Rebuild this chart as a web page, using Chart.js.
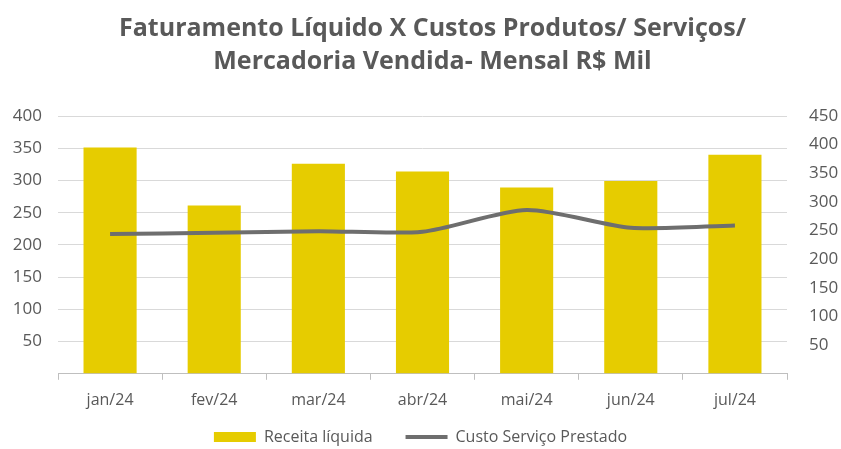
<!DOCTYPE html>
<html>
<head>
<meta charset="utf-8">
<script src="https://cdn.jsdelivr.net/npm/chart.js@4.4.0/dist/chart.umd.min.js"></script>
<style>
  html, body { margin: 0; padding: 0; background: #ffffff; }
  #wrap { width: 841px; height: 449px; }
</style>
</head>
<body>
<div id="wrap"><canvas id="chart" width="841" height="449"></canvas></div>
<script>
// dados (R$ mil)
const meses = ['jan/24', 'fev/24', 'mar/24', 'abr/24', 'mai/24', 'jun/24', 'jul/24'];
const receitaLiquida = [351, 261, 326, 314, 289, 299, 340];
const custoServico = [244, 246, 249, 248, 286, 255, 259];
const ticksEsq = [0, 400, 50];   // min, max, passo
const ticksDir = [0, 450, 50];

const cinza = '#595959';
const fonte = '"Open Sans", Lato, sans-serif';

// legenda mais baixa e título um pouco à direita
const ajustes = {
  id: 'ajustes',
  beforeInit(chart) {
    const fitOrig = chart.legend.fit;
    chart.legend.fit = function () {
      fitOrig.call(this);
      this.height -= 6;
    };
  },
  afterLayout(chart) {
    chart.titleBlock.left += 24;
  }
};

const ctx = document.getElementById('chart').getContext('2d');
new Chart(ctx, {
  data: {
    labels: meses,
    datasets: [
      {
        type: 'line',
        label: 'Custo Serviço Prestado',
        data: custoServico,
        yAxisID: 'y1',
        borderColor: '#6e6e6e',
        backgroundColor: '#6e6e6e',
        borderWidth: 4,
        pointRadius: 0,
        pointStyle: 'line',
        tension: 0.25,
        order: 0
      },
      {
        type: 'bar',
        label: 'Receita líquida',
        data: receitaLiquida,
        yAxisID: 'y',
        backgroundColor: '#E6CC00',
        categoryPercentage: 1,
        barPercentage: 0.51,
        order: 1
      }
    ]
  },
  options: {
    responsive: false,
    animation: false,
    layout: { padding: { top: 6, bottom: 0, left: 0, right: 0 } },
    plugins: {
      title: {
        display: true,
        text: ['Faturamento Líquido X Custos Produtos/ Serviços/', 'Mercadoria Vendida- Mensal R$ Mil'],
        color: cinza,
        font: { family: fonte, size: 25, weight: 'bold', lineHeight: 1.32 },
        padding: { top: 6, bottom: 38 }
      },
      legend: {
        position: 'bottom',
        reverse: true,
        labels: {
          color: cinza,
          font: { family: fonte, size: 16 },
          usePointStyle: true,
          pointStyleWidth: 42,
          boxWidth: 42,
          boxHeight: 10,
          padding: 8,
          generateLabels: function (chart) {
            const items = Chart.defaults.plugins.legend.labels.generateLabels(chart);
            items.forEach(it => {
              const ds = chart.data.datasets[it.datasetIndex];
              if (ds.type === 'bar') {
                it.pointStyle = 'rect';
                it.text = it.text + '      ';
              } else {
                it.pointStyle = 'line';
                it.lineWidth = 4;
                it.strokeStyle = '#6e6e6e';
              }
            });
            return items;
          }
        }
      },
      tooltip: { enabled: false }
    },
    scales: {
      x: {
        offset: true,
        grid: { drawOnChartArea: false, drawTicks: true, tickLength: 6, color: '#bfbfbf', offset: true },
        border: { color: '#bfbfbf' },
        ticks: { color: cinza, font: { family: fonte, size: 16 }, padding: 11 }
      },
      y: {
        position: 'left',
        min: ticksEsq[0],
        max: ticksEsq[1],
        afterFit: s => { s.width = 58; },
        grid: { color: '#d9d9d9', drawTicks: false },
        border: { display: false },
        ticks: {
          stepSize: ticksEsq[2],
          color: cinza,
          font: { family: fonte, size: 17 },
          padding: 16,
          callback: v => v === 0 ? '' : v
        }
      },
      y1: {
        position: 'right',
        min: ticksDir[0],
        max: ticksDir[1],
        afterFit: s => { s.width = 54; },
        grid: { drawOnChartArea: false, drawTicks: false },
        border: { display: false },
        ticks: {
          stepSize: ticksDir[2],
          color: cinza,
          font: { family: fonte, size: 17 },
          padding: 22,
          callback: v => v === 0 ? '' : v
        }
      }
    }
  },
  plugins: [ajustes]
});
</script>
</body>
</html>
